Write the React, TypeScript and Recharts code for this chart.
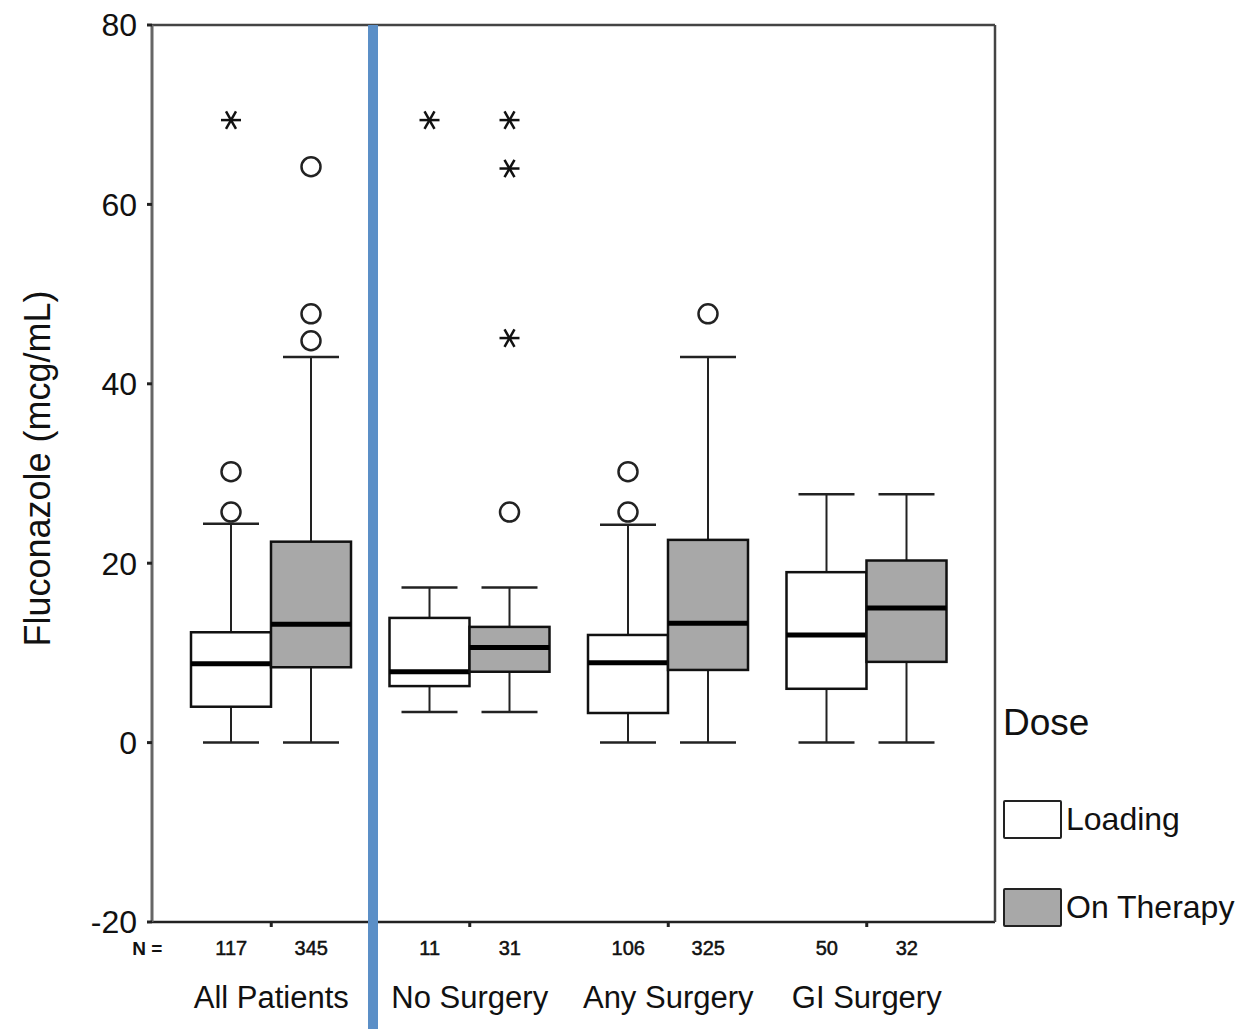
import React from "react";
import { ComposedChart, Bar, Line, XAxis, YAxis } from "recharts";

const categories = ["All Patients", "No Surgery", "Any Surgery", "GI Surgery"];
const loadingN = [117, 11, 106, 50];
const therapyN = [345, 31, 325, 32];

// box plot stats (mcg/mL)
const loadingMin = [0, 3.4, 0, 0];
const loadingQ1 = [4.0, 6.3, 3.3, 6.0];
const loadingMedian = [8.8, 7.9, 8.9, 12.0];
const loadingQ3 = [12.3, 13.9, 12.0, 19.0];
const loadingMax = [24.4, 17.3, 24.3, 27.7];
const loadingOutliers = [[25.7, 30.2], [], [25.7, 30.2], []];
const loadingExtremes = [[69.4], [69.4], [], []];

const therapyMin = [0, 3.4, 0, 0];
const therapyQ1 = [8.4, 7.9, 8.1, 9.0];
const therapyMedian = [13.2, 10.6, 13.3, 15.0];
const therapyQ3 = [22.4, 12.9, 22.6, 20.3];
const therapyMax = [43.0, 17.3, 43.0, 27.7];
const therapyOutliers = [[44.8, 47.8, 64.2], [25.7], [47.8], []];
const therapyExtremes = [[], [45.1, 64.0, 69.4], [], []];

const yTicks = [-20, 0, 20, 40, 60, 80];

const FONT = "'Liberation Sans', Arial, sans-serif";
const GREY = "#a8a8a8";

const SERIES: any = {
  loading: {
    min: loadingMin, q1: loadingQ1, med: loadingMedian, q3: loadingQ3, max: loadingMax,
    out: loadingOutliers, ext: loadingExtremes, fill: "#ffffff",
  },
  therapy: {
    min: therapyMin, q1: therapyQ1, med: therapyMedian, q3: therapyQ3, max: therapyMax,
    out: therapyOutliers, ext: therapyExtremes, fill: GREY,
  },
};

const data = categories.map((name, i) => ({
  name,
  loading: [loadingMin[i], loadingMax[i]],
  therapy: [therapyMin[i], therapyMax[i]],
}));

const makeBoxShape = (key: string) => (props: any) => {
  const { x, y, width, height, index } = props;
  const s = SERIES[key];
  const lo = s.min[index];
  const hi = s.max[index];
  const top = Math.min(y, y + height);
  const bottom = Math.max(y, y + height);
  // map a value to pixels from the bar's own (scaled) extent
  const py = (v: number) => bottom - ((v - lo) / (hi - lo)) * (bottom - top);
  const cx = x + width / 2;
  const cap = 28;
  const yq1 = py(s.q1[index]);
  const yq3 = py(s.q3[index]);
  const ymed = py(s.med[index]);
  return (
    <g>
      <line x1={cx} x2={cx} y1={py(hi)} y2={yq3} stroke="#222" strokeWidth={2} />
      <line x1={cx} x2={cx} y1={yq1} y2={py(lo)} stroke="#222" strokeWidth={2} />
      <line x1={cx - cap} x2={cx + cap} y1={py(hi)} y2={py(hi)} stroke="#222" strokeWidth={2.5} />
      <line x1={cx - cap} x2={cx + cap} y1={py(lo)} y2={py(lo)} stroke="#222" strokeWidth={2.5} />
      <rect x={x} y={yq3} width={width} height={yq1 - yq3} fill={s.fill} stroke="#111" strokeWidth={2.5} />
      <line x1={x} x2={x + width} y1={ymed} y2={ymed} stroke="#000" strokeWidth={5} />
      {s.out[index].map((v: number, j: number) => (
        <circle key={"o" + j} cx={cx} cy={py(v)} r={9.5} fill="#fff" stroke="#222" strokeWidth={2.5} />
      ))}
      {s.ext[index].map((v: number, j: number) => {
        const cy = py(v);
        return (
          <g key={"e" + j} stroke="#111" strokeWidth={2.5}>
            <line x1={cx - 10} x2={cx + 10} y1={cy} y2={cy} />
            <line x1={cx - 5} x2={cx + 5} y1={cy - 8.7} y2={cy + 8.7} />
            <line x1={cx + 5} x2={cx - 5} y1={cy - 8.7} y2={cy + 8.7} />
          </g>
        );
      })}
    </g>
  );
};

const XTick = (props: any) => {
  const { x, y, payload } = props;
  const i = payload.index;
  return (
    <g fontFamily={FONT} fill="#111">
      {i === 0 && (
        <text x={x - 124} y={y + 21} textAnchor="middle" dominantBaseline="central" fontSize={19} fontWeight="bold">
          N =
        </text>
      )}
      <text x={x - 40} y={y + 21} textAnchor="middle" dominantBaseline="central" fontSize={20} stroke="#111" strokeWidth={0.5}>
        {loadingN[i]}
      </text>
      <text x={x + 40} y={y + 21} textAnchor="middle" dominantBaseline="central" fontSize={20} stroke="#111" strokeWidth={0.5}>
        {therapyN[i]}
      </text>
      <text x={x} y={y + 70} textAnchor="middle" dominantBaseline="central" fontSize={31}>
        {payload.value}
      </text>
    </g>
  );
};

const YLabel = (props: any) => {
  const vb = props.viewBox || { x: 0, y: 25, width: 152, height: 897 };
  const cx = 37;
  const cy = vb.y + vb.height / 2 - 5;
  return (
    <text
      x={cx}
      y={cy}
      transform={`rotate(-90, ${cx}, ${cy})`}
      textAnchor="middle"
      dominantBaseline="central"
      fontFamily={FONT}
      fontSize={36}
      fill="#111"
    >
      Fluconazole (mcg/mL)
    </text>
  );
};

const LegendBox = ({ fill, label }: { fill: string; label: string }) => (
  <div style={{ display: "flex", alignItems: "center", height: 38 }}>
    <div style={{ width: 55, height: 35, background: fill, border: "2px solid #222", borderRadius: 2 }} />
    <span style={{ fontSize: 32, marginLeft: 4, color: "#111" }}>{label}</span>
  </div>
);

export default function App() {
  return (
    <div style={{ position: "absolute", left: 0, top: 0, width: 1251, height: 1029, background: "#fff", fontFamily: FONT }}>
      <ComposedChart
        width={1251}
        height={1029}
        data={data}
        margin={{ top: 24, right: 255, bottom: 0, left: 0 }}
        barGap={0}
        barSize={80}
      >
        <XAxis
          dataKey="name"
          height={107}
          padding={{ left: 20, right: 29 }}
          axisLine={{ stroke: "#222", strokeWidth: 2.5 }}
          tickLine={{ stroke: "#222", strokeWidth: 3 }}
          tickSize={5}
          tickMargin={0}
          tick={<XTick />}
          interval={0}
        />
        <XAxis
          xAxisId="top"
          orientation="top"
          dataKey="name"
          height={1}
          padding={{ left: 20, right: 29 }}
          axisLine={{ stroke: "#444", strokeWidth: 2.5 }}
          tickLine={false}
          tick={false}
        />
        <YAxis
          type="number"
          domain={[-20, 80]}
          ticks={yTicks}
          width={152}
          axisLine={{ stroke: "#666", strokeWidth: 3 }}
          tickLine={{ stroke: "#222", strokeWidth: 3 }}
          tickSize={5}
          tickMargin={10}
          tick={{ fontSize: 32, fill: "#111", fontFamily: FONT }}
          label={<YLabel />}
        />
        <YAxis
          yAxisId="right"
          orientation="right"
          type="number"
          domain={[-20, 80]}
          width={1}
          axisLine={{ stroke: "#444", strokeWidth: 2.5 }}
          tickLine={false}
          tick={false}
        />
        <Bar dataKey="loading" isAnimationActive={false} shape={makeBoxShape("loading")} />
        <Bar dataKey="therapy" isAnimationActive={false} shape={makeBoxShape("therapy")} />
        {/* empty series so the frame axes (top / right) get drawn */}
        <Line
          xAxisId="top"
          yAxisId="right"
          dataKey="frame"
          stroke="none"
          dot={false}
          legendType="none"
          isAnimationActive={false}
        />
      </ComposedChart>
      <div style={{ position: "absolute", left: 368, top: 25, width: 10, height: 1004, background: "#5b8fc7" }} />
      <div style={{ position: "absolute", left: 1003, top: 700 }}>
        <div style={{ fontSize: 37, height: 46, lineHeight: "46px", color: "#111" }}>Dose</div>
        <div style={{ marginTop: 54 }}>
          <LegendBox fill="#ffffff" label="Loading" />
        </div>
        <div style={{ marginTop: 50 }}>
          <LegendBox fill={GREY} label="On Therapy" />
        </div>
      </div>
    </div>
  );
}
